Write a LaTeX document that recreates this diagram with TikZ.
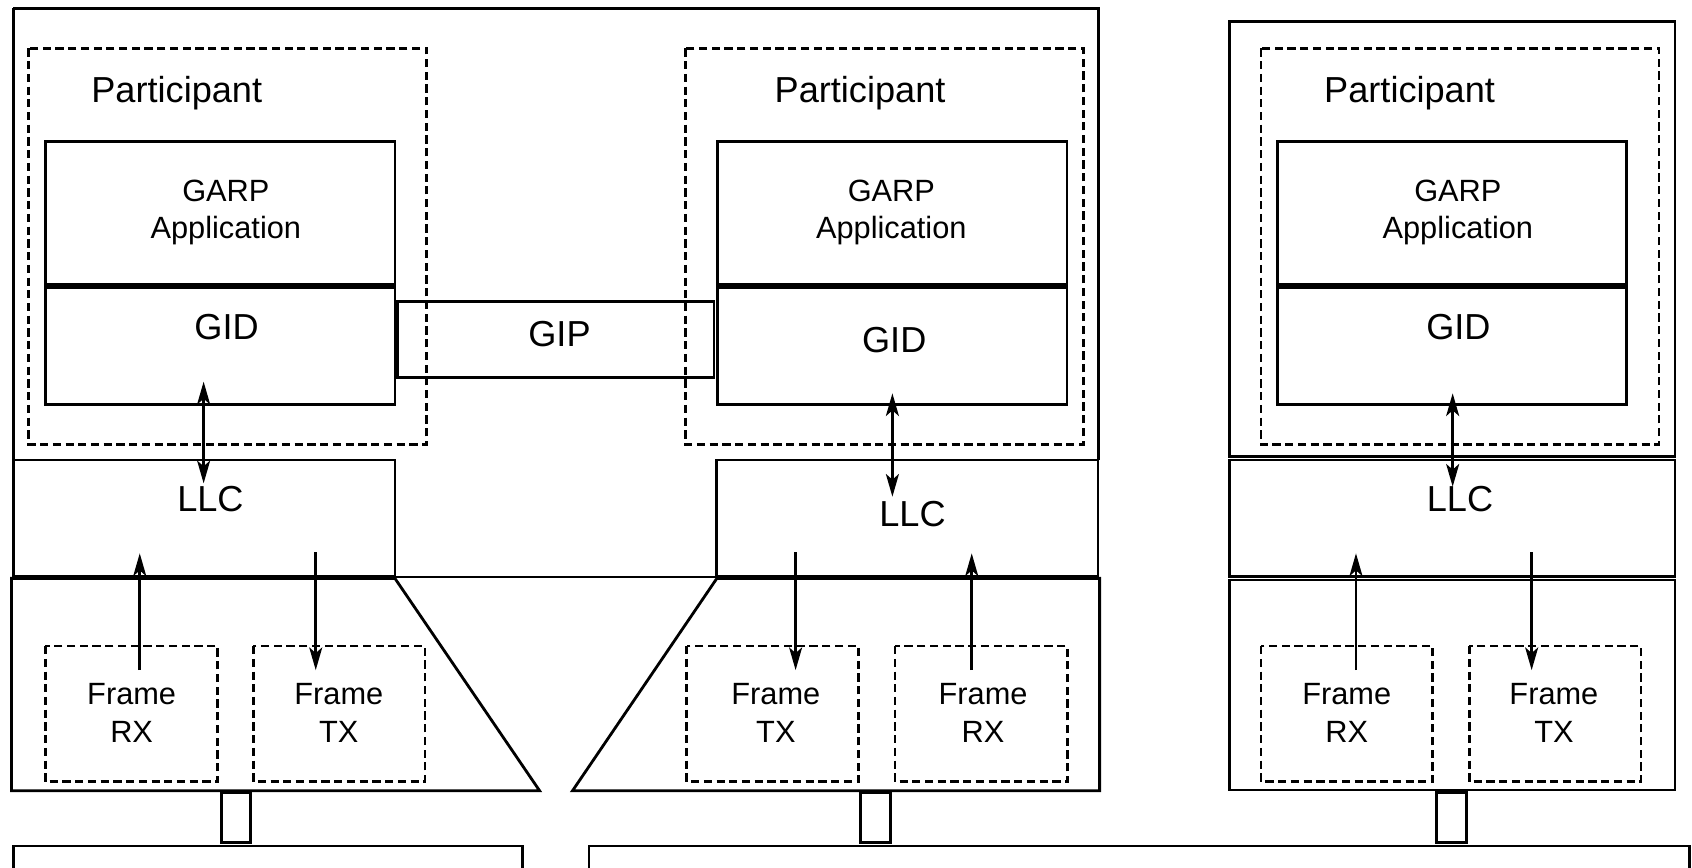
\documentclass[tikz,border=0pt]{standalone}
\usepackage{fontspec}
\setmainfont{Liberation Sans}
\usetikzlibrary{arrows.meta}
\begin{document}
\begin{tikzpicture}[x=0.5pt,y=-0.5pt,
  outline/.style={draw, line width=1.3pt, line join=miter},
  thinline/.style={draw, line width=0.9pt},
  seam/.style={draw, line width=2.4pt},
  dashbox/.style={draw, line width=1.2pt, dash pattern=on 3.8pt off 2.1pt},
  flow/.style={line width=1.2pt, -{Stealth[length=10.5pt,width=6pt,inset=2.6pt]}},
  both/.style={line width=1.2pt, {Stealth[length=10.5pt,width=6pt,inset=2.6pt]}-{Stealth[length=10.5pt,width=6pt,inset=2.6pt]}},
  biglabel/.style={font=\fontsize{16.75pt}{20pt}\selectfont, inner sep=0pt, anchor=base},
  smalllabel/.style={font=\fontsize{14.25pt}{17.35pt}\selectfont, inner sep=0pt, align=center, anchor=north}]
\useasboundingbox (0,0) rectangle (1568,804);

% ---------- bridge housing (two ports) ----------
\draw[thinline] (12.6,7.7) rectangle (1018,535);
\draw[outline] (12.6,7.7) -- (1018,7.7) -- (1018,426.3);
\draw[outline] (12.6,7.7) -- (12.6,426.3);

% port 1: participant
\draw[dashbox] (26.5,44.8) rectangle (395.5,411.8);
\draw[outline] (42,131.3) rectangle (366,374.7);
\draw[seam] (42,265) -- (366,265);
% port 1: LLC and MAC
\draw[outline] (12.4,426.3) rectangle (366,534.4);
\draw[outline] (10.6,536) -- (366,536) -- (500,732.7) -- (10.6,732.7) -- cycle;
\draw[dashbox] (41.9,598.7) rectangle (201.5,724.4);
\draw[dashbox] (234.8,598.7) rectangle (393.7,724.4);
\draw[outline] (205,734.6) rectangle (232.3,781);

% GIP between the two GIDs
\draw[outline] (368.4,279.6) rectangle (661.7,349.7);

% port 2: participant
\draw[dashbox] (635.3,44.8) rectangle (1004,411.8);
\draw[outline] (665.2,131.3) rectangle (988.8,374.7);
\draw[seam] (665.2,265) -- (988.8,265);
% port 2: LLC and MAC
\draw[outline] (664.3,426.3) rectangle (1017.5,534.4);
\draw[outline] (664.3,536) -- (1019,536) -- (1019,732.7) -- (530.6,732.7) -- cycle;
\draw[dashbox] (636.3,598.7) rectangle (795.5,724.4);
\draw[dashbox] (829.5,598.7) rectangle (989.2,724.4);
\draw[outline] (797.6,734.6) rectangle (825,781);

% ---------- end station ----------
\draw[outline] (1139.2,20) rectangle (1552.2,423.2);
\draw[dashbox] (1168.6,44.8) rectangle (1537.4,411.8);
\draw[outline] (1184,131.3) rectangle (1507.4,374.7);
\draw[seam] (1184,265) -- (1507.4,265);
\draw[outline] (1139.2,426.3) rectangle (1552.2,534.4);
\draw[outline] (1139.2,537.5) rectangle (1552.2,732);
\draw[dashbox] (1168.6,598.7) rectangle (1327.7,724.4);
\draw[dashbox] (1361.6,598.7) rectangle (1520.7,724.4);
\draw[outline] (1331.4,734.6) rectangle (1359.2,781);

% ---------- LAN segments ----------
\draw[outline] (12.4,812) -- (12.4,784) -- (484,784) -- (484,812);
\draw[outline] (545.8,812) -- (545.8,784) -- (1566,784) -- (1566,812);

% ---------- labels ----------
\node[biglabel] (part1) at (163.8,95) {Participant};
\node[biglabel] (part2) at (797,95) {Participant};
\node[biglabel] (part3) at (1306.3,95) {Participant};

\node[smalllabel] (app1) at (209.3,166) {GARP\\Application};
\node[smalllabel] (app2) at (826,166) {GARP\\Application};
\node[smalllabel] (app3) at (1351,166) {GARP\\Application};

\node[biglabel] (gid1) at (210,314.4) {GID};
\node[biglabel] (gid2) at (828.7,327) {GID};
\node[biglabel] (gid3) at (1351.5,314.5) {GID};

\node[biglabel] (gip) at (518.5,321.3) {GIP};

\node[biglabel] (llc1) at (195,474) {LLC};
\node[biglabel] (llc2) at (845.6,487.5) {LLC};
\node[biglabel] (llc3) at (1353,474) {LLC};

\node[smalllabel] (rx1) at (122,633.3) {Frame\\RX};
\node[smalllabel] (tx1) at (314,633.3) {Frame\\TX};
\node[smalllabel] (tx2) at (719,633.3) {Frame\\TX};
\node[smalllabel] (rx2) at (911,633.3) {Frame\\RX};
\node[smalllabel] (rx3) at (1248,633.3) {Frame\\RX};
\node[smalllabel] (tx3) at (1440,633.3) {Frame\\TX};

% ---------- arrow end points ----------
\coordinate (g1top) at (188.7,353.7);
\coordinate (g1bot) at (188.7,447.9);
\coordinate (g2top) at (827,364.5);
\coordinate (g2bot) at (827,460.3);
\coordinate (g3top) at (1346.2,364.5);
\coordinate (g3bot) at (1346.2,451);

\coordinate (rx1low) at (129.5,621);
\coordinate (rx1up) at (129.5,512.8);
\coordinate (tx1up) at (292.6,511.8);
\coordinate (tx1low) at (292.6,621);
\coordinate (tx2up) at (737.3,511.8);
\coordinate (tx2low) at (737.3,621);
\coordinate (rx2low) at (900.5,621);
\coordinate (rx2up) at (900.5,512.8);
\coordinate (rx3low) at (1256.6,621);
\coordinate (rx3up) at (1256.6,512.8);
\coordinate (tx3up) at (1419.4,511.8);
\coordinate (tx3low) at (1419.4,621);

% ---------- arrows ----------
\draw[both] (g1top) -- (g1bot);
\draw[both] (g2top) -- (g2bot);
\draw[both] (g3top) -- (g3bot);

\draw[flow] (rx1low) -- (rx1up);
\draw[flow] (tx1up) -- (tx1low);
\draw[flow] (tx2up) -- (tx2low);
\draw[flow] (rx2low) -- (rx2up);
\draw[flow] (rx3low) -- (rx3up);
\draw[flow] (tx3up) -- (tx3low);
\end{tikzpicture}
\end{document}
